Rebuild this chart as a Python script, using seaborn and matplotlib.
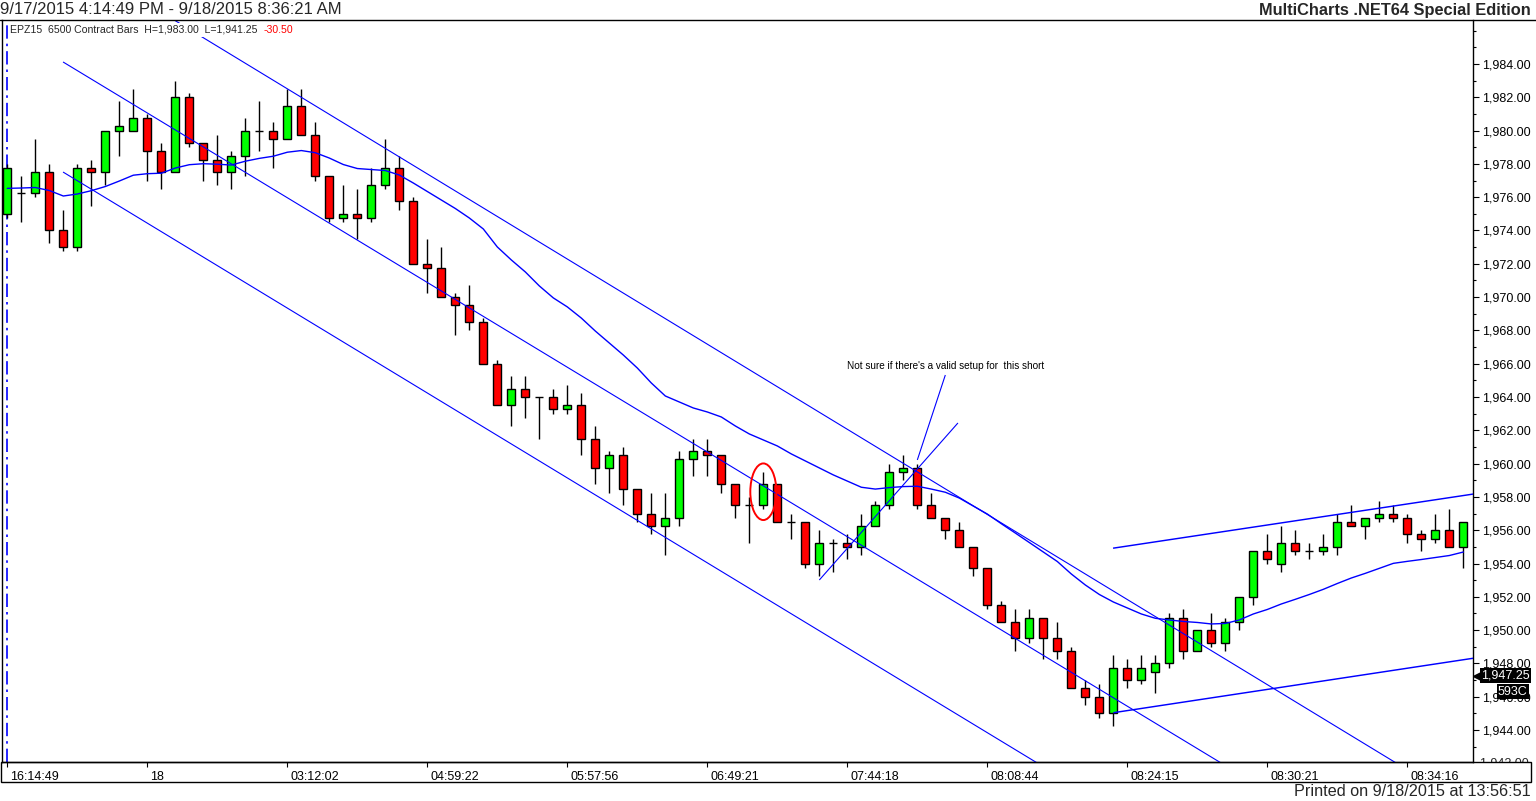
import matplotlib
matplotlib.use('Agg')
import matplotlib.pyplot as plt
import matplotlib.transforms as mtransforms
from matplotlib.patches import Ellipse, Rectangle
from matplotlib.lines import Line2D
from matplotlib.ticker import FixedLocator, MultipleLocator, FuncFormatter
import seaborn as sns

# EPZ15 6500 contract bars
opens = [1975.0, 1976.25, 1976.25, 1977.5, 1974.0, 1973.0, 1977.75, 1977.5, 1980.0, 1980.0,
         1980.75, 1978.75, 1977.5, 1982.0, 1979.25, 1978.25, 1977.5, 1978.5, 1980.0, 1980.0,
         1979.5, 1981.5, 1979.75, 1977.25, 1974.75, 1975.0, 1974.75, 1976.75, 1977.75, 1975.75,
         1972.0, 1971.75, 1970.0, 1969.5, 1968.5, 1966.0, 1963.5, 1964.5, 1964.0, 1964.0,
         1963.25, 1963.5, 1961.5, 1959.75, 1960.5, 1958.5, 1957.0, 1956.25, 1956.75, 1960.25,
         1960.75, 1960.5, 1958.75, 1957.5, 1957.5, 1958.75, 1956.5, 1956.5, 1954.0, 1955.25,
         1955.25, 1955.0, 1956.25, 1957.5, 1959.5, 1959.75, 1957.5, 1956.75, 1956.0, 1955.0,
         1953.75, 1951.5, 1950.5, 1949.5, 1950.75, 1949.5, 1948.75, 1946.5, 1946.0, 1945.0,
         1947.75, 1947.0, 1947.5, 1948.0, 1950.75, 1948.75, 1950.0, 1949.25, 1950.5, 1952.0,
         1954.75, 1954.0, 1955.25, 1954.75, 1954.75, 1955.0, 1956.5, 1956.25, 1956.75, 1957.0,
         1956.75, 1955.75, 1955.5, 1956.0, 1955.0]
highs = [1978.0, 1977.25, 1979.5, 1978.0, 1975.25, 1978.0, 1978.25, 1980.0, 1981.75, 1982.5,
         1981.0, 1979.25, 1983.0, 1982.25, 1979.25, 1979.75, 1978.75, 1980.75, 1981.75, 1980.5,
         1982.5, 1982.5, 1980.5, 1977.25, 1976.75, 1976.5, 1977.75, 1979.5, 1978.5, 1976.0,
         1973.5, 1973.0, 1970.25, 1970.75, 1968.75, 1966.25, 1965.25, 1965.25, 1964.0, 1964.5,
         1964.75, 1964.25, 1962.25, 1960.75, 1961.0, 1958.5, 1958.25, 1958.25, 1960.75, 1961.5,
         1961.5, 1960.5, 1958.75, 1958.0, 1959.5, 1958.75, 1957.0, 1956.5, 1956.0, 1955.5,
         1955.75, 1957.0, 1957.75, 1960.0, 1960.5, 1960.0, 1958.25, 1956.75, 1956.5, 1955.0,
         1953.75, 1951.75, 1951.25, 1951.25, 1950.75, 1950.5, 1949.0, 1947.0, 1946.75, 1948.5,
         1948.25, 1948.5, 1948.5, 1951.0, 1951.25, 1950.0, 1951.0, 1950.75, 1952.0, 1954.75,
         1955.75, 1956.25, 1956.0, 1955.25, 1955.75, 1957.0, 1957.5, 1956.75, 1957.75, 1957.5,
         1957.0, 1956.0, 1957.0, 1957.25, 1956.5]
lows = [1974.75, 1974.5, 1976.0, 1973.25, 1972.75, 1972.75, 1975.5, 1976.75, 1978.5, 1980.0,
        1977.0, 1976.5, 1977.5, 1979.0, 1977.0, 1976.75, 1976.5, 1977.25, 1978.75, 1977.75,
        1979.5, 1979.75, 1977.0, 1974.5, 1974.5, 1973.5, 1974.5, 1976.5, 1975.25, 1972.0,
        1970.25, 1970.0, 1967.75, 1968.0, 1966.0, 1963.5, 1962.25, 1962.75, 1961.5, 1963.0,
        1963.0, 1960.5, 1958.75, 1958.25, 1957.5, 1956.5, 1955.75, 1954.5, 1956.25, 1959.25,
        1959.25, 1958.25, 1956.75, 1955.25, 1957.25, 1956.5, 1955.5, 1953.75, 1953.25, 1953.5,
        1954.25, 1954.5, 1956.25, 1957.25, 1959.0, 1957.25, 1956.75, 1955.5, 1955.0, 1953.25,
        1951.25, 1950.5, 1948.75, 1949.25, 1948.25, 1948.25, 1946.5, 1945.5, 1944.75, 1944.25,
        1946.5, 1946.75, 1946.25, 1947.75, 1948.25, 1948.75, 1949.0, 1948.75, 1950.0, 1951.5,
        1954.0, 1953.5, 1954.5, 1954.25, 1954.5, 1954.5, 1956.25, 1955.5, 1956.5, 1956.5,
        1955.25, 1954.75, 1955.25, 1955.0, 1953.75]
closes = [1977.75, 1976.25, 1977.5, 1974.0, 1973.0, 1977.75, 1977.5, 1980.0, 1980.25, 1980.75,
          1978.75, 1977.5, 1982.0, 1979.25, 1978.25, 1977.5, 1978.5, 1980.0, 1980.0, 1979.5,
          1981.5, 1979.75, 1977.25, 1974.75, 1975.0, 1974.75, 1976.75, 1977.75, 1975.75, 1972.0,
          1971.75, 1970.0, 1969.5, 1968.5, 1966.0, 1963.5, 1964.5, 1964.0, 1964.0, 1963.25,
          1963.5, 1961.5, 1959.75, 1960.5, 1958.5, 1957.0, 1956.25, 1956.75, 1960.25, 1960.75,
          1960.5, 1958.75, 1957.5, 1957.5, 1958.75, 1956.5, 1956.5, 1954.0, 1955.25, 1955.25,
          1955.0, 1956.25, 1957.5, 1959.5, 1959.75, 1957.5, 1956.75, 1956.0, 1955.0, 1953.75,
          1951.5, 1950.5, 1949.5, 1950.75, 1949.5, 1948.75, 1946.5, 1946.0, 1945.0, 1947.75,
          1947.0, 1947.75, 1948.0, 1950.75, 1948.75, 1950.0, 1949.25, 1950.5, 1952.0, 1954.75,
          1954.25, 1955.25, 1954.75, 1954.75, 1955.0, 1956.5, 1956.25, 1956.75, 1957.0, 1956.75,
          1955.75, 1955.5, 1956.0, 1955.0, 1956.5]

# moving average line (blue), one value per bar
maPrices = [1976.53, 1976.55, 1976.58, 1976.40, 1976.07, 1976.19, 1976.39, 1976.64, 1976.97, 1977.32,
            1977.41, 1977.44, 1977.75, 1977.95, 1978.01, 1977.98, 1977.93, 1978.16, 1978.33, 1978.46,
            1978.70, 1978.80, 1978.67, 1978.35, 1977.96, 1977.72, 1977.66, 1977.60, 1977.33, 1976.85,
            1976.34, 1975.83, 1975.32, 1974.75, 1974.09, 1973.01, 1972.23, 1971.51, 1970.67, 1969.95,
            1969.41, 1968.74, 1967.96, 1967.24, 1966.52, 1965.74, 1964.84, 1964.06, 1963.70, 1963.34,
            1963.10, 1962.80, 1962.26, 1961.78, 1961.42, 1961.06, 1960.58, 1960.16, 1959.74, 1959.32,
            1958.95, 1958.58, 1958.47, 1958.56, 1958.62, 1958.64, 1958.47, 1958.28, 1957.93, 1957.45,
            1956.97, 1956.39, 1955.83, 1955.26, 1954.69, 1954.12, 1953.37, 1952.71, 1952.14, 1951.69,
            1951.33, 1950.97, 1950.71, 1950.61, 1950.52, 1950.46, 1950.37, 1950.40, 1950.61, 1950.97,
            1951.24, 1951.57, 1951.85, 1952.14, 1952.45, 1952.80, 1953.13, 1953.41, 1953.71, 1954.01,
            1954.13, 1954.24, 1954.36, 1954.48, 1954.69]

timeTickBars = [0, 10, 20, 30, 40, 50, 60, 70, 80, 90, 100]
timeTickLabels = ['16:14:49', '18', '03:12:02', '04:59:22', '05:57:56', '06:49:21',
                  '07:44:18', '08:08:44', '08:24:15', '08:30:21', '08:34:16']
priceTicks = [1944, 1946, 1948, 1950, 1952, 1954, 1956, 1958, 1960, 1962, 1964,
              1966, 1968, 1970, 1972, 1974, 1976, 1978, 1980, 1982, 1984]

# hand drawn trend lines: (bar, price) pairs
channelTop = [(11.8, 1986.7), (110.0, 1936.5)]
channelMiddle = [(3.98, 1984.12), (90.0, 1940.34)]
channelBottom = [(3.98, 1977.51), (90.0, 1933.64)]
riseTop = [(78.98, 1954.92), (104.7, 1958.17)]
riseBottom = [(79.0, 1945.04), (104.7, 1948.31)]
shortRise = [(58.0, 1953.01), (67.9, 1962.44)]
notePointer = [(65.0, 1960.22), (67.0, 1965.32)]
noteText = "Not sure if there's a valid setup for  this short"
notePosition = (67.0, 1965.84)
circledBar = (54.0, 1958.31)
lastPrice = 1947.25

W, H = 1536, 801


def fx(px):
    return px / W


def fy(py):
    return 1 - py / H


def drawCandles(ax):
    bars = list(range(len(opens)))
    ax.vlines(bars, lows, highs, color='black', linewidth=1.0, zorder=2)
    for i in bars:
        o, c = opens[i], closes[i]
        if o == c:
            ax.hlines(o, i - 0.29, i + 0.29, color='black', linewidth=1.0, zorder=3)
            continue
        colour = '#00ff00' if c > o else '#ff0000'
        ax.bar(i, abs(c - o), bottom=min(o, c), width=0.58, color=colour,
               edgecolor='black', linewidth=1.0, zorder=3)


def drawLine(ax, points, lw=0.8):
    xs = [p[0] for p in points]
    ys = [p[1] for p in points]
    ax.plot(xs, ys, color='#0000ff', linewidth=lw, zorder=4, solid_capstyle='butt')


def buildChart():
    sns.set_theme(style='white')
    plt.rcParams['font.family'] = ['Liberation Sans', 'DejaVu Sans']

    fig = plt.figure(figsize=(W / 100, H / 100), dpi=100)
    ax = fig.add_axes([fx(2), fy(762), fx(1473) - fx(2), fy(20) - fy(762)])
    ax.set_facecolor('white')

    drawCandles(ax)
    sns.lineplot(x=list(range(len(maPrices))), y=maPrices, ax=ax, color='#0000ff',
                 linewidth=1.0, zorder=4)
    for line in [channelTop, channelMiddle, channelBottom, shortRise, notePointer]:
        drawLine(ax, line, 0.8)
    drawLine(ax, riseTop, 1.05)
    drawLine(ax, riseBottom, 1.05)

    ax.axvline(0, color='#0000ff', linewidth=1.2, linestyle=(0, (8, 3, 1.5, 3)), zorder=1)
    ax.add_patch(Ellipse(circledBar, width=1.86, height=3.4, fill=False,
                         edgecolor='#ff0000', linewidth=1.4, zorder=5))
    ax.text(notePosition[0], notePosition[1], noteText, fontsize=7.2, ha='center',
            va='center', color='black', zorder=6)

    ax.set_xlim(-0.38, 104.69)
    ax.set_ylim(1942.08, 1986.64)

    ax.yaxis.tick_right()
    ax.yaxis.set_major_locator(FixedLocator(priceTicks))
    ax.yaxis.set_minor_locator(MultipleLocator(1))
    ax.yaxis.set_major_formatter(FuncFormatter(lambda v, pos: f'{v:,.2f}'))
    ax.tick_params(axis='y', which='major', length=4.5, width=0.8, pad=2,
                   labelsize=9, colors='black', direction='out')
    ax.tick_params(axis='y', which='minor', length=2, width=0.8, colors='black', direction='out')
    ax.set_xticks(timeTickBars)
    ax.set_xticklabels(timeTickLabels)
    ax.tick_params(axis='x', which='major', length=3.5, width=0.8, pad=3,
                   labelsize=9, colors='black', direction='out', bottom=True)
    shift = mtransforms.ScaledTranslation(2 / 72, 0, fig.dpi_scale_trans)
    for label in ax.get_xticklabels():
        label.set_horizontalalignment('left')
        label.set_transform(label.get_transform() + shift)

    for side in ['left', 'right', 'bottom']:
        ax.spines[side].set_color('black')
        ax.spines[side].set_linewidth(1.0)
    ax.spines['top'].set_visible(False)

    # cut off 1,942.00 label at the bottom of the price scale
    edge = ax.text(1.0, 1942, ' ' * 2 + '1,942.00', transform=ax.get_yaxis_transform(),
                   fontsize=9, va='center', ha='left', clip_on=True)
    edge.set_clip_box(mtransforms.Bbox.from_extents(0, H - 762, W, H - 20))

    # last price marker
    yTrans = ax.get_yaxis_transform()
    ax.plot([1.003], [lastPrice], marker='<', markersize=6, color='black',
            transform=yTrans, clip_on=False, zorder=7)
    ax.text(1.0055, lastPrice, '1,947.25', transform=yTrans, fontsize=9, color='white',
            va='center', ha='left', clip_on=False, zorder=8,
            bbox=dict(boxstyle='square,pad=0.12', facecolor='black', edgecolor='none'))
    ax.annotate('593C', xy=(1.0, lastPrice), xycoords=yTrans, xytext=(18, -11.5),
                textcoords='offset points', fontsize=9, color='white', va='center',
                ha='left', annotation_clip=False, zorder=8,
                bbox=dict(boxstyle='square,pad=0.12', facecolor='black', edgecolor='none'))

    # frame and header texts
    fig.add_artist(Line2D([0, 1], [fy(20), fy(20)], transform=fig.transFigure,
                          color='black', linewidth=1.0))
    fig.add_artist(Rectangle((fx(0.5), fy(782)), fx(1531) - fx(0.5), fy(762) - fy(782),
                             transform=fig.transFigure, fill=False, edgecolor='black',
                             linewidth=1.0))
    fig.text(fx(0), fy(10), '9/17/2015 4:14:49 PM - 9/18/2015 8:36:21 AM',
             fontsize=12, ha='left', va='center')
    fig.text(fx(1531), fy(10), 'MultiCharts .NET64 Special Edition', fontsize=11.8,
             fontweight='bold', ha='right', va='center')
    fig.text(fx(1531), fy(792), 'Printed on 9/18/2015 at 13:56:51',
             fontsize=11.7, ha='right', va='center')
    fig.text(fx(10), fy(30), 'EPZ15  6500 Contract Bars  H=1,983.00  L=1,941.25',
             fontsize=7.6, ha='left', va='center', zorder=10,
             bbox=dict(boxstyle='square,pad=0.15', facecolor='white', edgecolor='none'))
    fig.text(fx(264), fy(30), '-30.50', fontsize=7.6, color='#ff0000', ha='left',
             va='center', zorder=10,
             bbox=dict(boxstyle='square,pad=0.15', facecolor='white', edgecolor='none'))

    fig.savefig('out.png', dpi=100)
    plt.close(fig)


buildChart()
